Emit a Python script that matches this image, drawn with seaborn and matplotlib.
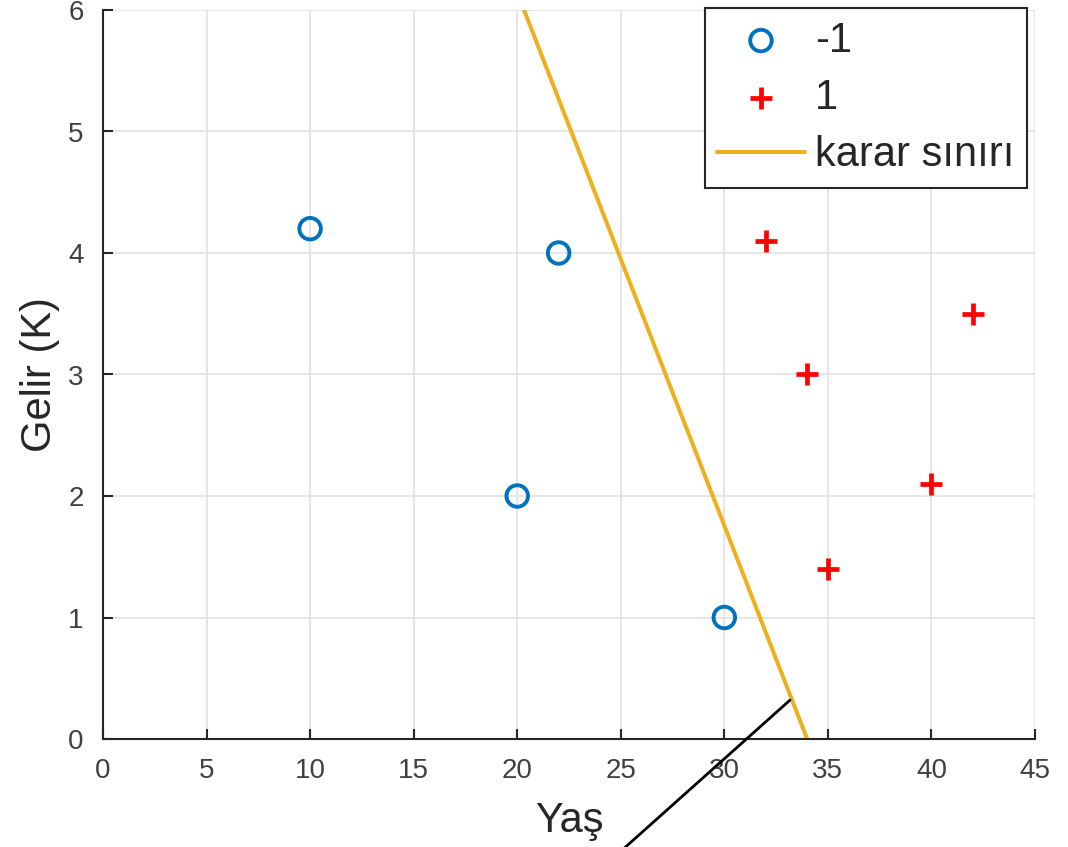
import matplotlib
matplotlib.use("Agg")
import matplotlib.pyplot as plt
import pandas as pd
import seaborn as sns

# class -1 (blue circles)
neg_age = [10, 22, 20, 30]
neg_income = [4.2, 4.0, 2.0, 1.0]
# class 1 (red plus)
pos_age = [32, 42, 34, 40, 35]
pos_income = [4.1, 3.5, 3.0, 2.1, 1.4]
# decision boundary end points
boundary_age = [20.33, 34.0]
boundary_income = [6.0, 0.0]
# pointer line (runs off the axes)
pointer_age = [33.17, 24.5]
pointer_income = [0.32, -1.0]

sns.set_theme(style="white")
plt.rcParams["font.family"] = ["Liberation Sans", "DejaVu Sans"]

fig = plt.figure(figsize=(10.68, 8.47), dpi=100)
ax = fig.add_axes([103 / 1068, 108 / 847, 932 / 1068, 729 / 847])

neg_df = pd.DataFrame({"age": neg_age, "income": neg_income})
pos_df = pd.DataFrame({"age": pos_age, "income": pos_income})
line_df = pd.DataFrame({"age": boundary_age, "income": boundary_income})

sns.scatterplot(data=neg_df, x="age", y="income", marker="o", s=240,
                facecolors="none", edgecolor="#0072BD", linewidth=2.8,
                label="-1", ax=ax, zorder=3)
sns.scatterplot(data=pos_df, x="age", y="income", marker="+", s=240,
                color="#FF0000", linewidth=3.4, label="1", ax=ax, zorder=3)
sns.lineplot(data=line_df, x="age", y="income", color="#EDB120", linewidth=2.9,
             sort=False, estimator=None, label="karar sınırı", ax=ax, zorder=2)
ax.plot(pointer_age, pointer_income, color="black", linewidth=2.0,
        clip_on=False, zorder=4)

ax.set_xlim(0, 45)
ax.set_ylim(0, 6)
ax.set_xticks(range(0, 46, 5))
ax.set_yticks(range(0, 7))
ax.grid(True, color="#E2E2E2", linewidth=1.2)
ax.set_axisbelow(True)
for side in ["top", "right"]:
    ax.spines[side].set_visible(False)
for side in ["left", "bottom"]:
    ax.spines[side].set_color("#262626")
    ax.spines[side].set_linewidth(1.5)
ax.tick_params(direction="in", length=7, width=1.5, colors="#262626",
               labelsize=20, labelcolor="#404040", pad=14,
               bottom=True, left=True)

ax.set_xlabel("Yaş", fontsize=30, color="#262626", labelpad=12)
ax.set_ylabel("Gelir (K)", fontsize=30, color="#262626", labelpad=6)

leg = ax.legend(loc="upper right", bbox_to_anchor=(1027 / 1068, 1 - 8 / 847),
                bbox_transform=fig.transFigure, borderaxespad=0,
                fontsize=30, frameon=True, fancybox=False, handlelength=2.1,
                handletextpad=0.25, labelspacing=0.42, borderpad=0.3)
leg.get_frame().set_edgecolor("#262626")
leg.get_frame().set_linewidth(1.5)
leg.get_frame().set_alpha(1)

fig.savefig("out.png", dpi=100)
